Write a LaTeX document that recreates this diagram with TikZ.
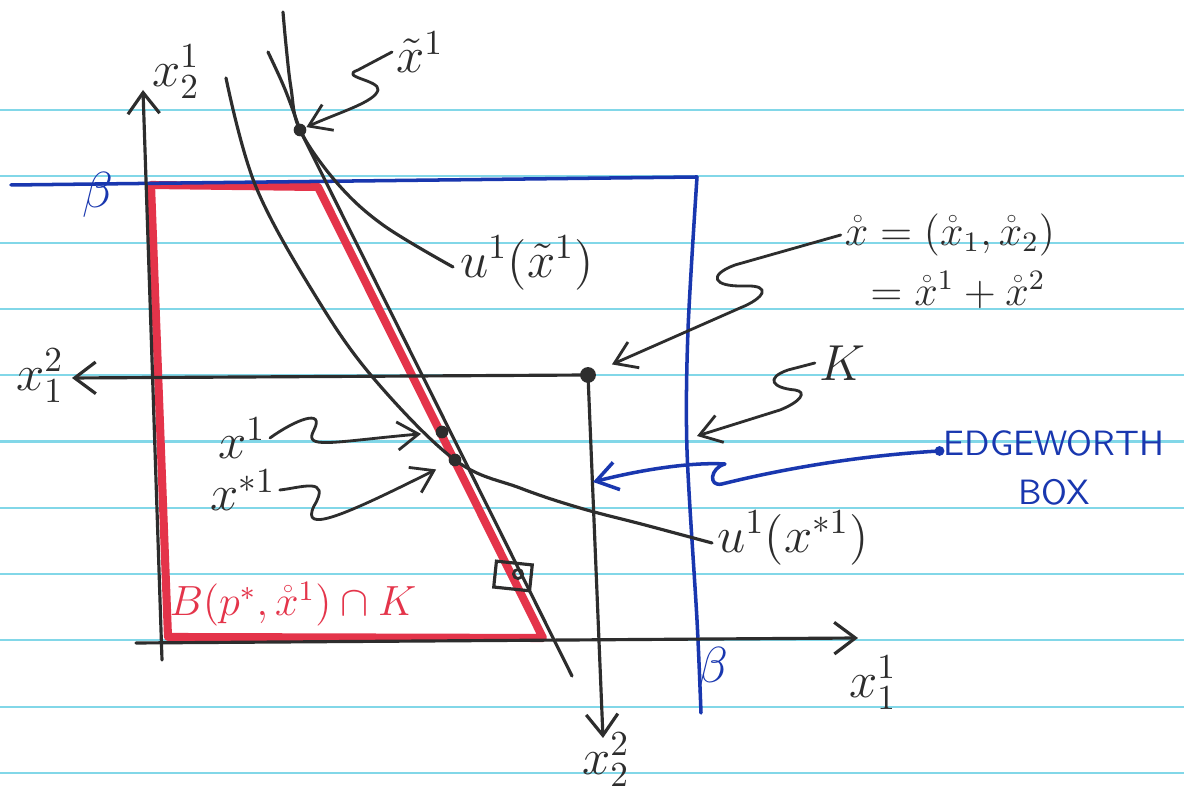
\documentclass[tikz,border=0pt]{standalone}
\usepackage{amsmath,amssymb}
\usepackage{tikz}
\usetikzlibrary{arrows.meta}
\definecolor{ink}{RGB}{45,45,45}
\definecolor{penblue}{RGB}{25,55,175}
\definecolor{penred}{RGB}{228,52,74}
\definecolor{paper}{RGB}{130,215,232}

\begin{document}
\begin{tikzpicture}[x=0.01cm, y=-0.01cm,
  pen/.style={draw=ink, line width=0.9pt, line cap=round, line join=round},
  axis/.style={pen, -{Straight Barb[length=6pt,width=9pt]}},
  pointer/.style={pen, line width=0.8pt, -{Straight Barb[length=6pt,width=8pt]}},
  bluepen/.style={draw=penblue, line width=1pt, line cap=round, line join=round},
  region/.style={draw=penred, line width=2.3pt, line join=round},
  dot/.style={circle, fill=ink, inner sep=0pt, minimum size=3.6pt},
  lbl/.style={text=ink, font=\Large, inner sep=1pt},
]
% paper
\fill[white] (0,0) rectangle (1184,795);
\useasboundingbox (0,0) rectangle (1184,795);
\foreach \ly in {0,...,10}
  \draw[paper, line width=0.6pt] (0,{110+66.3*\ly}) -- (1184,{110+66.3*\ly});

% budget set (red)
\draw[region] (151,185) -- (318,187) -- (543,638) -- (168,637) -- cycle;
\node[text=penred, font=\large] (bset) at (293,604) {$B(p^{*},\mathring{x}^{1})\cap K$};

% edgeworth box (blue)
\draw[bluepen] (11,185) -- (697,177);
\draw[bluepen] plot[smooth] coordinates {(697,177) (688,330) (687,450) (697,620) (701,713)};
\node[text=penblue, font=\Large] (beta1) at (98,195) {$\beta$};
\node[text=penblue, font=\Large] (beta2) at (713,670) {$\beta$};

% axes of consumer 1
\coordinate (v1bot) at (162,660);
\coordinate (v1top) at (143,90);
\coordinate (h1left) at (136,643);
\coordinate (h1right) at (858,638);
\draw[axis] (v1bot) -- (v1top);
\draw[axis] (h1left) -- (h1right);
\node[lbl] (x21) at (176,72) {$x_2^1$};
\node[lbl] (x11) at (873,683) {$x_1^1$};

% axes of consumer 2
\node[dot, minimum size=4.5pt] (o2) at (588,375) {};
\coordinate (h2tip) at (72,378);
\coordinate (v2tip) at (603,738);
\draw[axis] (o2.center) -- (h2tip);
\draw[axis] (o2.center) -- (v2tip);
\node[lbl] (x12) at (40,376) {$x_1^2$};
\node[lbl] (x22) at (606,760) {$x_2^2$};

% budget line and indifference curves
\node[dot] (xt) at (300,130) {};
\node[dot] (x1) at (442,432) {};
\node[dot] (xs1) at (455,460) {};
\draw[pen] (268,52) .. controls (285,88) .. (xt.center) -- (572,676);
\draw[pen] plot[smooth, tension=0.6] coordinates {(283,12) (286,45) (291,88) (300,130) (337,183) (383,225) (453,267)};
\draw[pen] plot[smooth, tension=0.6] coordinates {(226,78) (256,187) (318,300) (375,380) (455,460) (520,488) (580,508) (645,525) (712,543)};

% endowment point
\node[draw=ink, line width=0.9pt, minimum width=0.36cm, minimum height=0.26cm, inner sep=0pt, rotate=-6] (sq) at (513,576) {};
\node[circle, draw=ink, line width=0.8pt, minimum size=2.6pt, inner sep=0pt] (xo1) at (518,574) {};

% labels
\node[lbl] (xtl) at (420,52) {$\tilde{x}^{1}$};
\node[lbl] (ut) at (527,263) {$u^{1}(\tilde{x}^{1})$};
\node[lbl, font=\large] (xo) at (950,235) {$\mathring{x} = (\mathring{x}_1,\mathring{x}_2)$};
\node[lbl, font=\large] (xosum) at (958,290) {$= \mathring{x}^{1} + \mathring{x}^{2}$};
\node[lbl] (kl) at (842,363) {$K$};
\node[text=penblue, font=\normalsize\sffamily, align=center, inner sep=1pt] (ew) at (1054,468) {EDGEWORTH\\[2pt]BOX};
\node[lbl] (x1l) at (242,438) {$x^{1}$};
\node[lbl] (xs1l) at (243,490) {$x^{*1}$};
\node[lbl] (us) at (793,538) {$u^{1}(x^{*1})$};

% pointers
\coordinate (kside) at (697,436);
\coordinate (ewtip) at (593,482);
\draw[pointer] (xtl.west) -- (358,70) .. controls (338,77) and (380,80) .. (378,90)
  .. controls (375,102) and (340,112) .. (xt);
\draw[pointer, shorten >=5pt] (xo.west) -- (735,265) .. controls (708,275) and (712,287) .. (745,286)
  .. controls (772,285) and (765,298) .. (740,308) -- (o2);
\draw[pointer] (kl.west) -- (788,370) .. controls (765,378) and (772,388) .. (795,390)
  .. controls (808,392) and (800,402) .. (780,410) -- (kside);
\draw[bluepen, -{Straight Barb[length=6pt,width=8pt]}] (ew.west |- 0,451) .. controls (850,456) and (770,472) .. (722,484)
  .. controls (708,487) and (710,468) .. (725,464) .. controls (690,462) and (640,470) .. (ewtip);
\fill[penblue] (ew.west |- 0,451) circle (1.4pt);
\draw[pointer, shorten >=4pt] (x1l.east) .. controls (295,420) and (325,408) .. (314,430)
  .. controls (303,450) and (330,442) .. (x1);
\draw[pointer, shorten >=4pt] (xs1l.east) .. controls (300,488) and (332,476) .. (314,506)
  .. controls (300,535) and (345,515) .. (xs1);
\end{tikzpicture}
\end{document}
